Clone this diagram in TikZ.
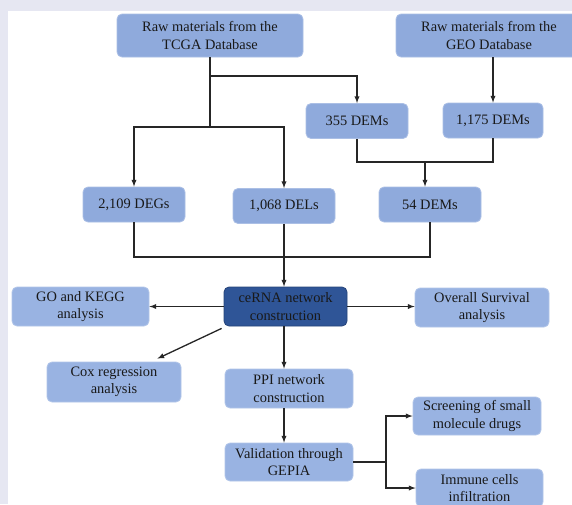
\documentclass[tikz,border=0pt]{standalone}
\usepackage{fontspec}
\setmainfont{Liberation Serif}
\usetikzlibrary{positioning}
\definecolor{boxblue}{HTML}{8FAADC}
\definecolor{boxlight}{HTML}{99B3E2}
\definecolor{boxdark}{HTML}{2F5597}
\definecolor{bandgray}{HTML}{E6E7F2}
\tikzstyle{block} = [draw=boxblue!75!white, fill=boxblue, line width=0.8pt, rectangle, rounded corners=5pt, align=center, inner sep=0pt, text=black!90, font=\fontsize{14.4}{17.4}\selectfont]
\tikzstyle{lblock} = [block, draw=boxlight!75!white, fill=boxlight, minimum height=39pt]
\tikzstyle{dblock} = [block, draw=boxdark!80!black, fill=boxdark, minimum height=39pt]
\tikzstyle{dem} = [block, minimum width=102pt, minimum height=35pt]
\tikzstyle{line} = [draw, line width=1.3pt, black!85]

\begin{document}
\begin{tikzpicture}[x=1pt, y=-1pt, >=latex]

\useasboundingbox (0,0) rectangle (572,504);
\clip (0,0) rectangle (572,504);
\fill [bandgray] (0,0) rectangle (572,504);
\fill [white] (8,11) rectangle (572,504);

% databases
\node [block, minimum width=186pt, minimum height=43pt] (tcga) at (210,35.5) {Raw materials from the\\TCGA Database};
\node [block, minimum width=186pt, minimum height=43pt] (geo) at (489,35.5) {Raw materials from the\\GEO Database};

% differentially expressed sets
\node [dem] (dem355) at (357,121) {355 DEMs};
\node [dem, minimum width=100pt] (dem1175) at (493,120.5) {1,175 DEMs};
\node [dem] (degs) at (134,204.5) {2,109 DEGs};
\node [dem] (dels) at (284,206) {1,068 DELs};
\node [dem] (dem54) at (430,204.5) {54 DEMs};

% network and downstream analyses
\node [dblock, minimum width=123pt] (cerna) at (285.5,306.5) {ceRNA network\\construction};
\node [lblock, minimum width=137pt] (go) at (80.5,306.5) {GO and KEGG\\analysis};
\node [lblock, minimum width=134pt] (os) at (482,307.5) {Overall Survival\\analysis};
\node [lblock, minimum width=134pt, minimum height=40pt] (cox) at (114,382) {Cox regression\\analysis};
\node [lblock, minimum width=128pt] (ppi) at (289,388.5) {PPI network\\construction};
\node [lblock, minimum width=128pt, minimum height=38pt] (gepia) at (289,462) {Validation through\\GEPIA};
\node [lblock, minimum width=128pt, minimum height=38pt] (drugs) at (477,416) {Screening of small\\molecule drugs};
\node [lblock, minimum width=127pt, minimum height=38pt] (immune) at (479.5,488) {Immune cells\\infiltration};

\coordinate (merge) at (0,257);
\coordinate (demjoin) at (425,162);
\coordinate (branch) at (386,0);

% top part
\draw [line] (tcga.south) -- (tcga.south |- 0,127) coordinate (tcgajoin);
\draw [line, ->] (tcga.south |- 0,76) -| (dem355.north);
\draw [line, ->] (tcgajoin) -| (degs.north);
\draw [line, ->] (tcgajoin) -| (dels.north);
\draw [line, ->] (geo.south -| dem1175.north) -- (dem1175.north);
\draw [line] (dem355.south) |- (demjoin) -| (dem1175.south);
\draw [line, ->] (demjoin) -- (demjoin |- dem54.north);

% into the ceRNA network
\draw [line] (degs.south) |- (dem54.south |- merge) -- (dem54.south);
\draw [line, ->] (dels.south) -- (dels.south |- cerna.north);

% bottom part
\draw [line, ->] (cerna.west) -- (go.east);
\draw [line, ->] (cerna.east) -- (cerna.east -| os.west);
\draw [line, ->] ([xshift=-2pt, yshift=-2pt]cerna.south west) -- ([xshift=-24pt, yshift=3pt]cox.north east);
\draw [line, ->] (cerna.south -| dels.south) -- (dels.south |- ppi.north);
\draw [line, ->] (ppi.south -| dels.south) -- (dels.south |- gepia.north);
\draw [line] (gepia.east) -- (gepia.east -| branch);
\draw [line, ->] (gepia.east -| branch) |- (drugs.west);
\draw [line, ->] (gepia.east -| branch) |- (immune.west);

\end{tikzpicture}
\end{document}
